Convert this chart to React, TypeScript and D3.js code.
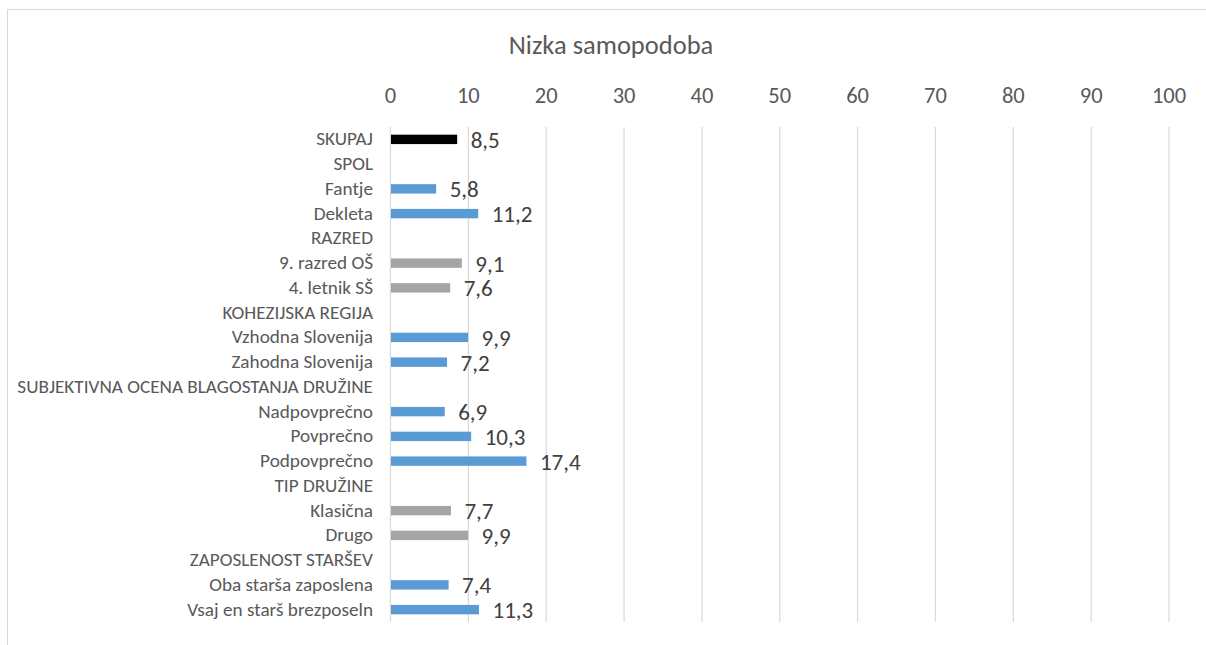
import React from 'react';
import * as d3 from 'd3';

const categories = [
  'SKUPAJ', 'SPOL', 'Fantje', 'Dekleta', 'RAZRED', '9. razred OŠ', '4. letnik SŠ',
  'KOHEZIJSKA REGIJA', 'Vzhodna Slovenija', 'Zahodna Slovenija',
  'SUBJEKTIVNA OCENA BLAGOSTANJA DRUŽINE', 'Nadpovprečno', 'Povprečno', 'Podpovprečno',
  'TIP DRUŽINE', 'Klasična', 'Drugo', 'ZAPOSLENOST STARŠEV',
  'Oba starša zaposlena', 'Vsaj en starš brezposeln',
];
const values: (number | null)[] = [
  8.5, null, 5.8, 11.2, null, 9.1, 7.6, null, 9.9, 7.2,
  null, 6.9, 10.3, 17.4, null, 7.7, 9.9, null, 7.4, 11.3,
];
// group of each row: total / blue / gray
const groups = [
  'total', '', 'blue', 'blue', '', 'gray', 'gray', '', 'blue', 'blue',
  '', 'blue', 'blue', 'blue', '', 'gray', 'gray', '', 'blue', 'blue',
];
const ticks = [0, 10, 20, 30, 40, 50, 60, 70, 80, 90, 100];
const title = 'Nizka samopodoba';

const colors: Record<string, string> = { total: '#000000', blue: '#5B9BD5', gray: '#A5A5A5' };

const W = 1206;
const H = 645;
const font = 'Calibri, Carlito, "Open Sans", sans-serif';

export default function App() {
  const x = d3.scaleLinear().domain([0, 100]).range([390.5, 1169]);
  const y = d3.scaleBand<string>().domain(categories).range([127, 622]).paddingInner(0.62).paddingOuter(0.31);
  const row = d3.scaleBand<string>().domain(categories).range([127, 622]);
  const fmt = (v: number) => d3.format('.1f')(v).replace('.', ',');

  return (
    <svg width={W} height={H} style={{ position: 'absolute', left: 0, top: 0, background: '#fff' }} fontFamily={font}>
      <rect x={7.5} y={9.5} width={1215} height={660} fill="#fff" stroke="#d9d9d9" strokeWidth={1} />
      <text x={611} y={54} textAnchor="middle" fontSize={26.5} fill="#595959">{title}</text>
      {ticks.map(t => (
        <g key={t}>
          <line x1={x(t)} x2={x(t)} y1={127} y2={622} stroke="#d9d9d9" strokeWidth={1.2} />
          <text x={x(t)} y={103} textAnchor="middle" fontSize={22.5} fill="#595959">{t}</text>
        </g>
      ))}
      {categories.map((c, i) => {
        const cy = (row(c) ?? 0) + row.bandwidth() / 2;
        const v = values[i];
        return (
          <g key={c}>
            <text x={373} y={cy + 6} textAnchor="end" fontSize={19.2} fill="#595959">{c}</text>
            {v !== null && (
              <>
                <rect x={x(0) + 0.5} y={y(c)} width={x(v) - x(0)} height={y.bandwidth()} fill={colors[groups[i]]} />
                <text x={x(v) + 14} y={cy + 8.5} fontSize={23} fill="#404040">{fmt(v)}</text>
              </>
            )}
          </g>
        );
      })}
    </svg>
  );
}
